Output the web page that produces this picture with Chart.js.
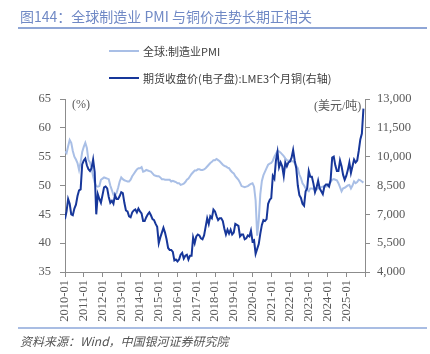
<!DOCTYPE html>
<html>
<head>
<meta charset="utf-8">
<script src="https://cdn.jsdelivr.net/npm/chart.js@4.4.1/dist/chart.umd.min.js"></script>
<style>
  html, body { margin: 0; padding: 0; background: #fff; }
  #wrap { position: relative; width: 430px; height: 354px; overflow: hidden; }
  #c { position: absolute; left: 0; top: 0; }
  .t { position: absolute; white-space: nowrap; }
  #title { left: 20px; top: 6px; font: 14px "Noto Sans CJK SC", sans-serif; color: #7089c5; }
  #rule1 { position: absolute; left: 18px; top: 27px; width: 409px; height: 1.5px; background: #8fa6d6; }
  #rule2 { position: absolute; left: 18px; top: 327px; width: 409px; height: 1.5px; background: #a9bde3; }
  .lg { font: 11px "Noto Sans CJK SC", sans-serif; color: #404040; }
  .sw { position: absolute; width: 30px; height: 2px; }
  #src { left: 20px; top: 332px; font: italic 12px "Noto Sans CJK SC", "Liberation Serif", serif; color: #555; }
  .unit { font: 12px "Liberation Serif", "Noto Sans CJK SC", serif; color: #595959; }
</style>
</head>
<body>
<div id="wrap">
  <canvas id="c" width="430" height="354"></canvas>
  <div class="t" id="title">图144：全球制造业 PMI 与铜价走势长期正相关</div>
  <div id="rule1"></div>
  <div class="sw" style="left:109px;top:50px;background:#a9bfe6;"></div>
  <div class="t lg" style="left:143px;top:43px;">全球:制造业PMI</div>
  <div class="sw" style="left:109px;top:77px;background:#17379a;"></div>
  <div class="t lg" style="left:143px;top:70px;">期货收盘价(电子盘):LME3个月铜(右轴)</div>
  <div class="t unit" style="left:72px;top:97px;">(%)</div>
  <div class="t unit" style="left:314px;top:96px;">(美元/吨)</div>
  <div id="rule2"></div>
  <div class="t" id="src">资料来源：Wind，中国银河证券研究院</div>
</div>
<script>
// Monthly data, 2010-01 .. 2025-12
const startYear = 2010;
const pmiGlobal = [
  // 2010
  55.9, 55.6, 56.8, 57.9, 57.4, 56.0, 55.0, 54.5, 53.9, 52.7, 54.0, 55.8,
  // 2011
  56.7, 57.4, 56.5, 54.4, 54.0, 53.0, 51.6, 50.5, 49.9, 49.8, 49.9, 51.0,
  // 2012
  51.2, 51.4, 51.3, 51.2, 51.1, 50.0, 49.2, 48.4, 48.4, 48.7, 49.6, 50.7,
  // 2013
  51.4, 51.1, 50.9, 50.8, 50.7, 50.7, 51.0, 51.6, 52.0, 52.4, 52.8, 53.0,
  // 2014
  53.0, 53.2, 52.4, 52.5, 52.7, 52.6, 52.5, 52.4, 52.1, 51.8, 51.7, 51.6,
  // 2015
  51.6, 51.4, 51.1, 51.1, 51.0, 51.0, 51.0, 51.0, 50.7, 50.8, 50.7, 50.6,
  // 2016
  50.4, 50.4, 50.1, 50.2, 50.3, 50.6, 51.0, 51.2, 51.6, 52.0, 52.3, 52.6,
  // 2017
  52.6, 52.8, 52.8, 52.7, 52.7, 52.8, 53.0, 53.3, 53.6, 53.9, 54.1, 54.4,
  // 2018
  54.4, 54.6, 54.4, 54.2, 53.9, 53.6, 53.4, 53.3, 53.1, 53.0, 52.6, 52.3,
  // 2019
  52.1, 51.6, 51.3, 51.0, 50.5, 49.9, 49.8, 49.7, 49.8, 49.9, 50.1, 50.3,
  // 2020
  50.4, 49.8, 47.4, 41.3, 44.0, 48.5, 50.8, 51.8, 52.4, 53.0, 53.6, 53.8,
  // 2021
  53.9, 54.3, 55.0, 55.5, 56.0, 55.9, 55.7, 55.4, 55.1, 54.7, 54.4, 54.3,
  // 2022
  54.3, 54.2, 54.2, 53.9, 53.4, 53.0, 51.9, 51.3, 50.4, 50.0, 49.5, 49.2,
  // 2023
  49.0, 49.5, 49.5, 49.4, 49.2, 49.3, 49.5, 49.6, 49.7, 49.8, 49.9, 49.8,
  // 2024
  49.9, 50.3, 50.6, 51.0, 51.1, 51.0, 50.9, 50.4, 49.7, 49.0, 49.5, 49.6,
  // 2025
  49.8, 50.0, 50.1, 49.5, 50.0, 50.7, 50.4, 50.6, 51.0, 50.9, 50.7, 50.5
];
const lmeCopper3M = [
  // 2010
  6750, 7150, 7800, 7550, 7000, 6950, 7300, 7500, 7950, 8250, 8300, 9600,
  // 2011
  9800, 9900, 9550, 9350, 9250, 9400, 9850, 9200, 7000, 8050, 7800, 7600,
  // 2012
  8000, 8400, 8450, 8350, 7900, 7600, 7700, 7550, 8000, 7800, 7800, 7950,
  // 2013
  8150, 8100, 7600, 7200, 7150, 6900, 6850, 7100, 7200, 7250, 7100, 7300,
  // 2014
  7150, 7050, 6650, 6650, 6850, 7000, 7100, 6950, 6750, 6700, 6500, 6350,
  // 2015
  5500, 5800, 6050, 6300, 6050, 5700, 5250, 5150, 5150, 5050, 4600, 4650,
  // 2016
  4550, 4650, 4900, 5000, 4700, 4850, 4900, 4650, 4850, 4850, 5800, 5500,
  // 2017
  5850, 5950, 5900, 5750, 5700, 5900, 6350, 6800, 6500, 6900, 6800, 7250,
  // 2018
  7150, 6900, 6700, 6800, 6800, 6650, 6250, 5950, 6200, 6000, 6200, 5950,
  // 2019
  6050, 6500, 6450, 6400, 5850, 5950, 5950, 5700, 5750, 5900, 5850, 6150,
  // 2020
  5600, 5650, 4950, 5200, 5450, 6000, 6450, 6700, 6650, 6750, 7550, 7750,
  // 2021
  7850, 9000, 8850, 9800, 10250, 9450, 9700, 9500, 9000, 9700, 9500, 9700,
  // 2022
  9750, 9950, 10350, 9800, 9400, 8500, 8000, 7850, 7550, 7450, 8200, 8350,
  // 2023
  9250, 8950, 8950, 8600, 8150, 8400, 8750, 8350, 8200, 8050, 8450, 8550,
  // 2024
  8550, 8450, 8800, 9950, 10000, 9550, 9250, 9250, 9800, 9500, 9050, 8800,
  // 2025
  9000, 9300, 9700, 9150, 9500, 9850, 9700, 9800, 10300, 10900, 11200, 12500
];
const xTickLabels = ['2010-01','2011-01','2012-01','2013-01','2014-01','2015-01','2016-01','2017-01',
  '2018-01','2019-01','2020-01','2021-01','2022-01','2023-01','2024-01','2025-01'];
const leftTicks = [35, 40, 45, 50, 55, 60, 65];
const rightTicks = [4000, 5500, 7000, 8500, 10000, 11500, 13000];

const pmiPts = pmiGlobal.map((v, i) => ({ x: i, y: v }));
const cuPts = lmeCopper3M.map((v, i) => ({ x: i, y: v }));
const tickIdx = xTickLabels.map(s => (parseInt(s.slice(0, 4)) - startYear) * 12);

const axisColor = '#8c8c8c';
const numFont = { family: '"Liberation Serif", "Times New Roman", serif', size: 12.5 };

new Chart(document.getElementById('c'), {
  type: 'line',
  data: {
    datasets: [
      { label: '期货收盘价(电子盘):LME3个月铜(右轴)', data: cuPts, yAxisID: 'y2', borderColor: '#17379a', borderWidth: 2, pointRadius: 0, tension: 0, order: 0 },
      { label: '全球:制造业PMI', data: pmiPts, yAxisID: 'y', borderColor: '#a9bfe6', borderWidth: 2, pointRadius: 0, tension: 0, order: 1 }
    ]
  },
  options: {
    responsive: false,
    animation: false,
    events: [],
    layout: { padding: { top: 99, left: 0, right: 0, bottom: 0 } },
    plugins: { legend: { display: false }, tooltip: { enabled: false } },
    scales: {
      x: {
        type: 'linear', min: 0, max: 192,
        afterBuildTicks: s => { s.ticks = tickIdx.concat([192]).map(v => ({ value: v })); },
        afterFit: s => { s.height = 82; },
        grid: { display: true, drawOnChartArea: false, drawTicks: true, tickLength: 5, color: axisColor },
        border: { display: true, color: axisColor },
        ticks: {
          autoSkip: false, maxRotation: 90, minRotation: 90, padding: 3,
          font: numFont, color: '#595959',
          callback: v => { const k = tickIdx.indexOf(v); return k >= 0 ? xTickLabels[k] : ''; }
        }
      },
      y: {
        position: 'left', min: 35, max: 65,
        afterBuildTicks: s => { s.ticks = leftTicks.map(v => ({ value: v })); },
        afterFit: s => { s.width = 65; },
        grid: { display: true, drawOnChartArea: false, drawTicks: true, tickLength: 5, color: axisColor },
        border: { display: true, color: axisColor },
        ticks: { padding: 9, font: numFont, color: '#595959' }
      },
      y2: {
        position: 'right', min: 4000, max: 13000,
        afterBuildTicks: s => { s.ticks = rightTicks.map(v => ({ value: v })); },
        afterFit: s => { s.width = 65; },
        grid: { display: true, drawOnChartArea: false, drawTicks: true, tickLength: 5, color: axisColor },
        border: { display: true, color: axisColor },
        ticks: { padding: 7, font: numFont, color: '#595959', callback: v => v.toLocaleString('en-US') }
      }
    }
  }
});
</script>
</body>
</html>
